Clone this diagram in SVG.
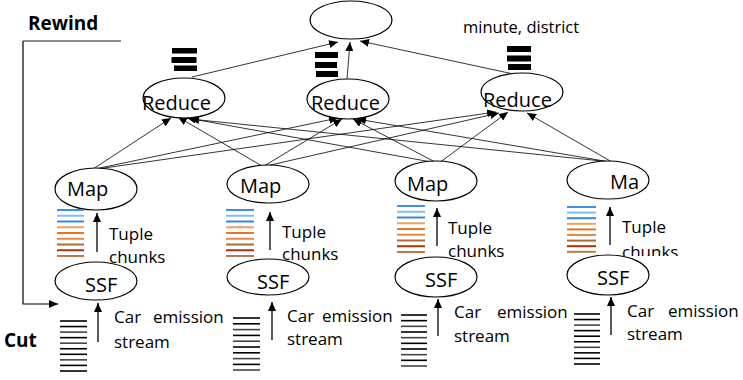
<svg xmlns="http://www.w3.org/2000/svg" width="743" height="380" viewBox="0 0 743 380">
<defs>
<marker id="ah" viewBox="0 0 9 8" refX="9" refY="4" markerWidth="9" markerHeight="8" markerUnits="userSpaceOnUse" orient="auto"><path d="M0,0 L9,4 L0,8 z" fill="#000"/></marker>
<clipPath id="clip4"><rect x="600" y="200" width="143" height="56"/></clipPath>
<style>
.e{fill:#fff;stroke:#000;stroke-width:1.2}
.t{font-family:"Open Sans","Noto Sans","DejaVu Sans",sans-serif;fill:#000}
.n{font-size:20px}
.s{font-size:17px}
.b{font-size:19px;font-weight:bold}
.c{stroke:#000;stroke-width:0.8;fill:none;marker-end:url(#ah)}
.v{stroke:#000;stroke-width:1.3;fill:none;marker-end:url(#ah)}
.bl1{stroke:#3a93e8;stroke-width:2}
.bl2{stroke:#86bdf0;stroke-width:2}
.bl3{stroke:#2f8ae6;stroke-width:2}
.or1{stroke:#e8873f;stroke-width:2}
.or2{stroke:#e07828;stroke-width:2}
.or3{stroke:#f0a060;stroke-width:2}
.br1{stroke:#b06a3c;stroke-width:2}
.br2{stroke:#a3360c;stroke-width:2}
.br3{stroke:#b87a52;stroke-width:2}
.k1{stroke:#000;stroke-width:1.6}
.k2{stroke:#444;stroke-width:1.6}
</style>
</defs>

<g id="connectors">
<line class="c" x1="93" y1="169" x2="171" y2="118"/>
<line class="c" x1="262" y1="166" x2="178" y2="117"/>
<line class="c" x1="437" y1="163" x2="187" y2="118"/>
<line class="c" x1="612" y1="162" x2="190" y2="119"/>
<line class="c" x1="95" y1="169" x2="338" y2="118"/>
<line class="c" x1="264" y1="166" x2="342" y2="119"/>
<line class="c" x1="437" y1="163" x2="353" y2="119"/>
<line class="c" x1="610" y1="162" x2="357" y2="119"/>
<line class="c" x1="97" y1="169" x2="496" y2="112"/>
<line class="c" x1="266" y1="166" x2="499" y2="113"/>
<line class="c" x1="439" y1="163" x2="508" y2="112"/>
<line class="c" x1="612" y1="162" x2="527" y2="113"/>
<line class="c" x1="192" y1="77" x2="338" y2="42"/>
<line class="c" x1="347" y1="79" x2="350" y2="42"/>
<line class="c" x1="518" y1="75" x2="360" y2="41"/>
<line class="v" x1="97" y1="252" x2="97" y2="213"/>
<line class="v" x1="270" y1="250" x2="270" y2="212"/>
<line class="v" x1="437" y1="246" x2="437" y2="208"/>
<line class="v" x1="610" y1="245" x2="610" y2="207"/>
<line class="v" x1="98" y1="342" x2="98" y2="303"/>
<line class="v" x1="272" y1="340" x2="272" y2="302"/>
<line class="v" x1="438" y1="336" x2="438" y2="299"/>
<line class="v" x1="611" y1="335" x2="611" y2="297"/>
<line x1="23" y1="41" x2="121" y2="41" stroke="#666" stroke-width="1.5"/>
<polyline points="23,41 23,304 58,304" fill="none" stroke="#000" stroke-width="1.2" marker-end="url(#ah)"/>
</g>

<g id="top"><ellipse class="e" cx="351" cy="20" rx="41" ry="19"/></g>
<g id="label-top"><text class="t" x="463" y="33" font-size="16.5">minute, district</text></g>

<g id="reduce1">
<ellipse class="e" cx="184" cy="98" rx="41" ry="20"/>
<text class="t n" x="142" y="110">Reduce</text>
<rect x="172" y="48" width="25" height="5.5"/><rect x="171.5" y="57" width="25" height="6"/><rect x="174" y="65.5" width="23" height="5.5"/>
</g>
<g id="reduce2">
<ellipse class="e" cx="348" cy="99" rx="41" ry="20"/>
<text class="t n" x="311" y="110">Reduce</text>
<rect x="315" y="52" width="23" height="6"/><rect x="315" y="62" width="22" height="6"/><rect x="316" y="71" width="22" height="6"/>
</g>
<g id="reduce3">
<ellipse class="e" cx="522" cy="92" rx="41" ry="19"/>
<text class="t n" x="483" y="107">Reduce</text>
<rect x="507" y="46" width="24" height="6"/><rect x="507" y="55.5" width="24" height="6"/><rect x="508" y="64" width="23" height="6"/>
</g>

<g id="map1">
<ellipse class="e" cx="96" cy="189" rx="41" ry="21"/>
<text class="t n" x="67" y="196">Map</text>
<g transform="translate(57,210)">
<line class="bl1" x1="0" y1="0" x2="27" y2="0"/><line class="bl2" x1="0" y1="5.75" x2="27" y2="5.75"/><line class="bl3" x1="0" y1="11.5" x2="27" y2="11.5"/>
<line class="or3" x1="0" y1="17.25" x2="27" y2="17.25"/><line class="or2" x1="0" y1="23" x2="27" y2="23"/><line class="or1" x1="0" y1="28.75" x2="27" y2="28.75"/>
<line class="br1" x1="0" y1="34.5" x2="27" y2="34.5"/><line class="br2" x1="0" y1="40.25" x2="27" y2="40.25"/><line class="br3" x1="0" y1="46" x2="27" y2="46"/>
</g>
<text class="t s" x="109" y="240">Tuple</text><text class="t s" x="109" y="263">chunks</text>
</g>
<g id="map2">
<ellipse class="e" cx="268" cy="184" rx="41" ry="19"/>
<text class="t n" x="240" y="193">Map</text>
<g transform="translate(226,210)">
<line class="bl1" x1="0" y1="0" x2="28" y2="0"/><line class="bl2" x1="0" y1="5.75" x2="28" y2="5.75"/><line class="bl3" x1="0" y1="11.5" x2="28" y2="11.5"/>
<line class="or3" x1="0" y1="17.25" x2="28" y2="17.25"/><line class="or2" x1="0" y1="23" x2="28" y2="23"/><line class="or1" x1="0" y1="28.75" x2="28" y2="28.75"/>
<line class="br1" x1="0" y1="34.5" x2="28" y2="34.5"/><line class="br2" x1="0" y1="40.25" x2="28" y2="40.25"/><line class="br3" x1="0" y1="46" x2="28" y2="46"/>
</g>
<text class="t s" x="282" y="238">Tuple</text><text class="t s" x="282" y="260">chunks</text>
</g>
<g id="map3">
<ellipse class="e" cx="436" cy="181" rx="41" ry="20"/>
<text class="t n" x="407" y="191">Map</text>
<g transform="translate(397,206)">
<line class="bl1" x1="0" y1="0" x2="28" y2="0"/><line class="bl2" x1="0" y1="5.75" x2="28" y2="5.75"/><line class="bl3" x1="0" y1="11.5" x2="28" y2="11.5"/>
<line class="or3" x1="0" y1="17.25" x2="28" y2="17.25"/><line class="or2" x1="0" y1="23" x2="28" y2="23"/><line class="or1" x1="0" y1="28.75" x2="28" y2="28.75"/>
<line class="br1" x1="0" y1="34.5" x2="28" y2="34.5"/><line class="br2" x1="0" y1="40.25" x2="28" y2="40.25"/><line class="br3" x1="0" y1="46" x2="28" y2="46"/>
</g>
<text class="t s" x="448" y="234">Tuple</text><text class="t s" x="448" y="257">chunks</text>
</g>
<g id="map4">
<ellipse class="e" cx="608" cy="180" rx="41" ry="19"/>
<text class="t n" x="610" y="189">Ma</text>
<g transform="translate(567,207)">
<line class="bl1" x1="0" y1="0" x2="29" y2="0"/><line class="bl2" x1="0" y1="5.6" x2="29" y2="5.6"/><line class="bl3" x1="0" y1="11.2" x2="29" y2="11.2"/>
<line class="or3" x1="0" y1="16.8" x2="29" y2="16.8"/><line class="or2" x1="0" y1="22.4" x2="29" y2="22.4"/><line class="or1" x1="0" y1="28" x2="29" y2="28"/>
<line class="br1" x1="0" y1="33.6" x2="29" y2="33.6"/><line class="br2" x1="0" y1="39.2" x2="29" y2="39.2"/><line class="br3" x1="0" y1="44.8" x2="29" y2="44.8"/>
</g>
<g clip-path="url(#clip4)"><text class="t s" x="622" y="233">Tuple</text><text class="t s" x="622" y="258">chunks</text></g>
</g>

<g id="ssf1">
<ellipse class="e" cx="96" cy="281" rx="41" ry="19"/>
<text class="t n" x="85" y="292">SSF</text>
<g transform="translate(60,321)">
<line class="k1" x1="0" y1="0" x2="27" y2="0"/><line class="k1" x1="0" y1="5.55" x2="27" y2="5.55"/><line class="k2" x1="0" y1="11.1" x2="27" y2="11.1"/><line class="k1" x1="0" y1="16.65" x2="27" y2="16.65"/><line class="k2" x1="0" y1="22.2" x2="27" y2="22.2"/>
<line class="k1" x1="0" y1="27.75" x2="27" y2="27.75"/><line class="k1" x1="0" y1="33.3" x2="27" y2="33.3"/><line class="k2" x1="0" y1="38.85" x2="27" y2="38.85"/><line class="k1" x1="0" y1="44.4" x2="27" y2="44.4"/><line class="k1" x1="0" y1="50" x2="27" y2="50"/>
</g>
<text class="t s" y="323"><tspan x="114">Car</tspan><tspan x="153">emission</tspan></text><text class="t s" x="114" y="348">stream</text>
</g>
<g id="ssf2">
<ellipse class="e" cx="268" cy="277" rx="41" ry="18"/>
<text class="t n" x="257" y="289">SSF</text>
<g transform="translate(233,318)">
<line class="k1" x1="0" y1="0" x2="27" y2="0"/><line class="k1" x1="0" y1="5.8" x2="27" y2="5.8"/><line class="k2" x1="0" y1="11.6" x2="27" y2="11.6"/><line class="k1" x1="0" y1="17.4" x2="27" y2="17.4"/><line class="k2" x1="0" y1="23.2" x2="27" y2="23.2"/>
<line class="k1" x1="0" y1="29" x2="27" y2="29"/><line class="k1" x1="0" y1="34.8" x2="27" y2="34.8"/><line class="k2" x1="0" y1="40.6" x2="27" y2="40.6"/><line class="k1" x1="0" y1="46.4" x2="27" y2="46.4"/><line class="k2" x1="0" y1="52" x2="27" y2="52"/>
</g>
<text class="t s" y="322"><tspan x="287">Car</tspan><tspan x="322">emission</tspan></text><text class="t s" x="287" y="345">stream</text>
</g>
<g id="ssf3">
<ellipse class="e" cx="436" cy="277" rx="41" ry="20"/>
<text class="t n" x="425" y="287">SSF</text>
<g transform="translate(401,315)">
<line class="k1" x1="0" y1="0" x2="26" y2="0"/><line class="k1" x1="0" y1="5.67" x2="26" y2="5.67"/><line class="k2" x1="0" y1="11.33" x2="26" y2="11.33"/><line class="k1" x1="0" y1="17" x2="26" y2="17"/><line class="k2" x1="0" y1="22.67" x2="26" y2="22.67"/>
<line class="k1" x1="0" y1="28.33" x2="26" y2="28.33"/><line class="k1" x1="0" y1="34" x2="26" y2="34"/><line class="k2" x1="0" y1="39.67" x2="26" y2="39.67"/><line class="k1" x1="0" y1="45.33" x2="26" y2="45.33"/><line class="k2" x1="0" y1="51" x2="26" y2="51"/>
</g>
<text class="t s" y="318"><tspan x="454">Car</tspan><tspan x="497">emission</tspan></text><text class="t s" x="454" y="342">stream</text>
</g>
<g id="ssf4">
<ellipse class="e" cx="608" cy="275" rx="41" ry="20"/>
<text class="t n" x="597" y="285">SSF</text>
<g transform="translate(574,314)">
<line class="k1" x1="0" y1="0" x2="26" y2="0"/><line class="k1" x1="0" y1="5.55" x2="26" y2="5.55"/><line class="k2" x1="0" y1="11.1" x2="26" y2="11.1"/><line class="k1" x1="0" y1="16.65" x2="26" y2="16.65"/><line class="k1" x1="0" y1="22.2" x2="26" y2="22.2"/>
<line class="k1" x1="0" y1="27.75" x2="26" y2="27.75"/><line class="k2" x1="0" y1="33.3" x2="26" y2="33.3"/><line class="k1" x1="0" y1="38.85" x2="26" y2="38.85"/><line class="k1" x1="0" y1="44.4" x2="26" y2="44.4"/><line class="k1" x1="0" y1="50" x2="26" y2="50"/>
</g>
<text class="t s" y="317"><tspan x="627">Car</tspan><tspan x="668">emission</tspan></text><text class="t s" x="627" y="340">stream</text>
</g>

<g id="labels">
<text class="t b" x="28" y="30">Rewind</text>
<text class="t b" x="4" y="347">Cut</text>
</g>
</svg>
